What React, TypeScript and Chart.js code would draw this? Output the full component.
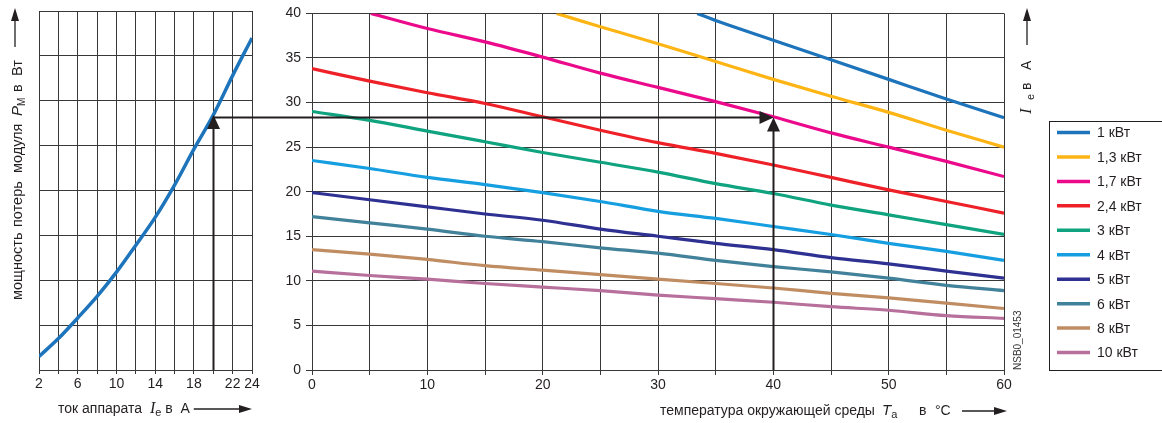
import React, { useEffect, useRef } from "react";
import { Chart, registerables } from "chart.js";

Chart.register(...registerables);

const W = 1162;
const H = 423;

// Left panel: module loss power P_M (W) against device current I_e (A)
const currents = [2, 4, 6, 8, 10, 12, 14, 16, 18, 20, 22, 24];
const lossPower = [1.5, 3.5, 5.8, 8.2, 10.9, 13.9, 17.0, 20.6, 24.6, 28.4, 32.8, 37.0];
const currentTickLabels = [2, 6, 10, 14, 18, 22, 24];

// Right panel: permissible current I_e (A) against ambient temperature T_a (°C)
const temps = [0, 5, 10, 15, 20, 25, 30, 35, 40, 45, 50, 55, 60];
const temps1kW = [33.4, 35, 40, 45, 50, 55, 60];
const cur1kW = [40, 39.2, 37.0, 34.8, 32.6, 30.4, 28.3];
const temps1_3kW = [21.2, 25, 30, 35, 40, 45, 50, 55, 60];
const cur1_3kW = [40, 38.5, 36.6, 34.6, 32.6, 30.7, 28.9, 26.9, 25.0];
const temps1_7kW = [5.1, 10, 15, 20, 25, 30, 35, 40, 45, 50, 55, 60];
const cur1_7kW = [40, 38.3, 36.8, 35.1, 33.3, 31.7, 30.1, 28.4, 26.6, 25.0, 23.4, 21.7];
const cur2_4kW = [33.8, 32.4, 31.1, 29.9, 28.4, 26.9, 25.5, 24.3, 23.0, 21.6, 20.2, 18.9, 17.6];
const cur3kW = [29.0, 28.0, 26.8, 25.6, 24.4, 23.3, 22.2, 20.9, 19.8, 18.5, 17.4, 16.3, 15.2];
const cur4kW = [23.5, 22.6, 21.6, 20.8, 19.9, 18.9, 17.8, 17.0, 16.1, 15.2, 14.2, 13.3, 12.3];
const cur5kW = [19.9, 19.1, 18.3, 17.5, 16.8, 15.8, 15.0, 14.2, 13.5, 12.6, 11.9, 11.1, 10.3];
const cur6kW = [17.2, 16.5, 15.8, 15.0, 14.4, 13.7, 13.1, 12.3, 11.6, 11.0, 10.3, 9.5, 8.9];
const cur8kW = [13.5, 13.0, 12.4, 11.7, 11.2, 10.7, 10.2, 9.7, 9.2, 8.6, 8.1, 7.5, 6.9];
const cur10kW = [11.1, 10.6, 10.2, 9.7, 9.3, 8.9, 8.4, 8.0, 7.6, 7.1, 6.7, 6.1, 5.8];

const ratingLabels = ["1 кВт", "1,3 кВт", "1,7 кВт", "2,4 кВт", "3 кВт", "4 кВт", "5 кВт", "6 кВт", "8 кВт", "10 кВт"];
const ratingColors = ["#1d74bb", "#fdb515", "#ec0a8c", "#ee2128", "#0fa37f", "#169fe0", "#2e3092", "#41819a", "#c08d63", "#b7709c"];

// Worked example: 1,7 кВт at 40 °C -> I_e = 20 A
const exampleCurrent = 20;
const exampleTemp = 40;

const INK = "#231f20";
const GRID = "#383838";
const SANS = '"Liberation Sans", Arial, sans-serif';
const f = (size: number, style = "") => `${style} ${size}px ${SANS}`.trim();
const fSerif = (size: number) => `italic ${size}px "Liberation Serif", "Times New Roman", serif`;

// a run of text; `at` places the run at a fixed offset from the start of the line
type Seg = { t: string; font: string; dy?: number; at?: number };

function drawRich(ctx: CanvasRenderingContext2D, segs: Seg[], x: number, y: number): number {
  let cx = x;
  ctx.textBaseline = "alphabetic";
  ctx.textAlign = "left";
  for (const s of segs) {
    if (s.at !== undefined) cx = x + s.at;
    ctx.font = s.font;
    ctx.fillText(s.t, cx, y + (s.dy || 0));
    cx += ctx.measureText(s.t).width;
  }
  return cx - x;
}

function drawArrow(ctx: CanvasRenderingContext2D, x1: number, y1: number, x2: number, y2: number, len: number, half: number, width: number) {
  const a = Math.atan2(y2 - y1, x2 - x1);
  const bx = x2 - Math.cos(a) * len;
  const by = y2 - Math.sin(a) * len;
  ctx.strokeStyle = INK;
  ctx.fillStyle = INK;
  ctx.lineWidth = width;
  ctx.beginPath();
  ctx.moveTo(x1, y1);
  ctx.lineTo(bx + Math.cos(a), by + Math.sin(a));
  ctx.stroke();
  ctx.beginPath();
  ctx.moveTo(x2, y2);
  ctx.lineTo(bx - Math.sin(a) * half, by + Math.cos(a) * half);
  ctx.lineTo(bx + Math.sin(a) * half, by - Math.cos(a) * half);
  ctx.closePath();
  ctx.fill();
}

const exampleLevel = lossPower[currents.indexOf(exampleCurrent)];

const leftDecor = {
  id: "leftDecor",
  afterDatasetsDraw(chart: any) {
    const ctx = chart.ctx as CanvasRenderingContext2D;
    const { x, y } = chart.scales;
    const px = Math.round(x.getPixelForValue(exampleCurrent)) + 0.5;
    drawArrow(ctx, px, chart.chartArea.bottom, px, y.getPixelForValue(exampleLevel), 14, 6.5, 2);
  },
  afterDraw(chart: any) {
    const ctx = chart.ctx as CanvasRenderingContext2D;
    const area = chart.chartArea;
    ctx.save();
    ctx.fillStyle = INK;
    // vertical title, reading upwards
    ctx.translate(22, 300);
    ctx.rotate(-Math.PI / 2);
    drawRich(ctx, [
      { t: "мощность", font: f(14.5) },
      { t: "потерь", font: f(14.5), at: 73 },
      { t: "модуля", font: f(14.5), at: 127 },
      { t: "P", font: f(15, "italic"), at: 184 },
      { t: "M", font: f(10), dy: 3 },
      { t: "в", font: f(14.5), at: 208 },
      { t: "Вт", font: f(14.5), at: 224 },
    ], 0, 0);
    ctx.restore();
    ctx.save();
    drawArrow(ctx, 15, 300 - 253, 15, 8, 13, 4, 1.3);
    // horizontal title
    ctx.fillStyle = INK;
    const e2 = drawRich(ctx, [
      { t: "ток аппарата  ", font: f(14) },
      { t: "I", font: fSerif(16) },
      { t: "e", font: f(11), dy: 3 },
      { t: " в  A", font: f(14) },
    ], 58, 413);
    drawArrow(ctx, 58 + e2 + 4, 409, area.right, 409, 13, 4, 1.3);
    ctx.restore();
  },
};

function makeRightDecor(left: Chart) {
  return {
    id: "rightDecor",
    afterDatasetsDraw(chart: any) {
      const ctx = chart.ctx as CanvasRenderingContext2D;
      const { x, y } = chart.scales;
      const lx = Math.round((left.scales as any).x.getPixelForValue(exampleCurrent));
      const tx = Math.round(x.getPixelForValue(exampleTemp)) + 0.5;
      const ly = Math.round(y.getPixelForValue(exampleLevel)) + 0.5;
      drawArrow(ctx, lx, ly, tx, ly, 14, 6.5, 2);
      drawArrow(ctx, tx, chart.chartArea.bottom, tx, ly, 14, 6.5, 2);
    },
    afterDraw(chart: any) {
      const ctx = chart.ctx as CanvasRenderingContext2D;
      const area = chart.chartArea;
      ctx.save();
      ctx.fillStyle = INK;
      // x title
      drawRich(ctx, [
        { t: "температура окружающей среды", font: f(14) },
        { t: "T", font: f(15, "italic"), at: 222 },
        { t: "a", font: f(11), dy: 3 },
        { t: "в", font: f(14), at: 259 },
        { t: "°C", font: f(14), at: 275 },
      ], 660, 415);
      drawArrow(ctx, 962, 411, area.right + 3, 411, 13, 4, 1.3);

      // right-hand y title, reading upwards
      ctx.save();
      ctx.fillStyle = INK;
      ctx.translate(1031, 114);
      ctx.rotate(-Math.PI / 2);
      drawRich(ctx, [
        { t: "I", font: fSerif(17) },
        { t: "e", font: f(11), dy: 3, at: 14 },
        { t: "в", font: f(14), at: 24 },
        { t: "A", font: f(14), at: 44 },
      ], 0, 0);
      ctx.restore();
      drawArrow(ctx, 1027, 45, 1027, 8, 13, 4, 1.3);

      // drawing number
      ctx.save();
      ctx.fillStyle = "#333";
      ctx.translate(1021, area.bottom);
      ctx.rotate(-Math.PI / 2);
      drawRich(ctx, [{ t: "NSB0_01453", font: f(10) }], 0, 0);
      ctx.restore();

      // legend
      const bx = area.right + 45;
      const by = 121;
      ctx.strokeStyle = INK;
      ctx.lineWidth = 1;
      ctx.strokeRect(bx + 0.5, by + 0.5, 200, area.bottom - by);
      ctx.font = f(14);
      ctx.textBaseline = "middle";
      ctx.textAlign = "left";
      ratingLabels.forEach((lab, k) => {
        const yy = by + 11.5 + k * 24.45;
        ctx.strokeStyle = ratingColors[k];
        ctx.lineWidth = 3.5;
        ctx.beginPath();
        ctx.moveTo(bx + 8, yy);
        ctx.lineTo(bx + 41, yy);
        ctx.stroke();
        ctx.fillStyle = INK;
        ctx.fillText(lab, bx + 48, yy + 1);
      });
      ctx.restore();
    },
  };
}

const pts = (xs: number[], ys: number[]) => xs.map((v, i) => ({ x: v, y: ys[i] }));

export default function App() {
  const leftRef = useRef<HTMLCanvasElement>(null);
  const rightRef = useRef<HTMLCanvasElement>(null);

  useEffect(() => {
    const tickFont = { family: SANS, size: 14 };
    const left = new Chart(leftRef.current!, {
      type: "line",
      data: {
        datasets: [
          {
            data: pts(currents, lossPower),
            borderColor: ratingColors[0],
            borderWidth: 3.5,
            pointRadius: 0,
            cubicInterpolationMode: "monotone",
            fill: false,
          },
        ],
      },
      options: {
        responsive: false,
        animation: false,
        devicePixelRatio: 1,
        layout: { padding: { left: 39, right: W - 252, top: 11, bottom: 0 } },
        plugins: { legend: { display: false }, tooltip: { enabled: false } },
        scales: {
          x: {
            type: "linear",
            min: 2,
            max: 24,
            ticks: {
              stepSize: 2,
              autoSkip: false,
              maxRotation: 0,
              padding: 2,
              color: INK,
              font: tickFont,
              callback: (v: any) => (currentTickLabels.includes(Number(v)) ? String(v) : ""),
            },
            grid: { color: GRID, tickLength: 4 },
            border: { color: GRID },
            afterFit: (s: any) => {
              s.height = 53;
            },
          },
          y: {
            min: 0,
            max: 40,
            ticks: { stepSize: 5, display: false },
            grid: { color: GRID, drawTicks: false },
            border: { color: GRID },
            afterFit: (s: any) => {
              s.width = 0;
            },
          },
        },
      },
      plugins: [leftDecor],
    } as any);

    const series = [
      pts(temps1kW, cur1kW),
      pts(temps1_3kW, cur1_3kW),
      pts(temps1_7kW, cur1_7kW),
      pts(temps, cur2_4kW),
      pts(temps, cur3kW),
      pts(temps, cur4kW),
      pts(temps, cur5kW),
      pts(temps, cur6kW),
      pts(temps, cur8kW),
      pts(temps, cur10kW),
    ];

    const right = new Chart(rightRef.current!, {
      type: "line",
      data: {
        datasets: series.map((d, k) => ({
          label: ratingLabels[k],
          data: d,
          borderColor: ratingColors[k],
          borderWidth: 3.2,
          pointRadius: 0,
          cubicInterpolationMode: "monotone",
          fill: false,
        })),
      },
      options: {
        responsive: false,
        animation: false,
        devicePixelRatio: 1,
        layout: { padding: { left: 260, right: 158, top: 11, bottom: 0 } },
        plugins: { legend: { display: false }, tooltip: { enabled: false } },
        scales: {
          x: {
            type: "linear",
            min: 0,
            max: 60,
            ticks: {
              stepSize: 5,
              autoSkip: false,
              maxRotation: 0,
              padding: 2,
              color: INK,
              font: tickFont,
              callback: (v: any) => (Number(v) % 10 === 0 ? String(v) : ""),
            },
            grid: { color: GRID, tickLength: 5 },
            border: { color: GRID },
            afterFit: (s: any) => {
              s.height = 53;
            },
          },
          y: {
            min: 0,
            max: 40,
            ticks: { stepSize: 5, padding: 5, color: INK, font: tickFont },
            grid: { color: GRID, tickLength: 6 },
            border: { color: GRID },
            afterFit: (s: any) => {
              s.width = 52;
            },
          },
        },
      },
      plugins: [makeRightDecor(left)],
    } as any);

    return () => {
      right.destroy();
      left.destroy();
    };
  }, []);

  return (
    <div style={{ position: "fixed", left: 0, top: 0, width: W, height: H, background: "#fff" }}>
      <canvas ref={leftRef} width={W} height={H} style={{ position: "absolute", left: 0, top: 0 }} />
      <canvas ref={rightRef} width={W} height={H} style={{ position: "absolute", left: 0, top: 0 }} />
    </div>
  );
}
